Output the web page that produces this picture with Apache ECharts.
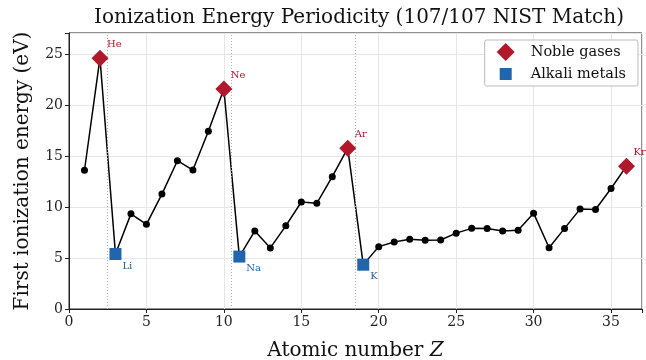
<!DOCTYPE html>
<html><head><meta charset="utf-8">
<script src="https://cdn.jsdelivr.net/npm/echarts@6/dist/echarts.min.js"></script>
<style>html,body{margin:0;padding:0;background:#fff}#c{width:646px;height:360px}</style>
</head><body><div id="c"></div>
<script>
const atomicNumbers = [1,2,3,4,5,6,7,8,9,10,11,12,13,14,15,16,17,18,19,20,21,22,23,24,25,26,27,28,29,30,31,32,33,34,35,36];
const ionizationEnergy = [13.598,24.587,5.392,9.323,8.298,11.260,14.534,13.618,17.423,21.565,5.139,7.646,5.986,8.152,10.487,10.360,12.968,15.760,4.341,6.113,6.561,6.828,6.746,6.767,7.434,7.902,7.881,7.640,7.726,9.394,5.999,7.900,9.789,9.752,11.814,13.999];
const nobleZ = [2,10,18,36];
const nobleNames = ['He','Ne','Ar','Kr'];
const alkaliZ = [3,11,19];
const alkaliNames = ['Li','Na','K'];
const periodBoundaries = [2.5,10.5,18.5];
const xTicks = [0,5,10,15,20,25,30,35];
const yTicks = [0,5,10,15,20,25];

const RED = '#b2182b', BLUE = '#2166ac';
const FONT = 'DejaVu Serif';
const ie = z => ionizationEnergy[atomicNumbers.indexOf(z)];

const chart = echarts.init(document.getElementById('c'), null, {renderer:'canvas'});
chart.setOption({
  animation:false,
  backgroundColor:'#fff',
  textStyle:{fontFamily:FONT},
  title:{text:'Ionization Energy Periodicity (107/107 NIST Match)', left:354, textAlign:'center', top:3,
    textStyle:{fontFamily:FONT, fontWeight:'normal', fontSize:20, color:'#111'}},
  grid:{left:69, right:4, top:33, bottom:51, show:true, borderColor:'#222', borderWidth:1, backgroundColor:'transparent',
    outerBoundsMode:'none', containLabel:false},
  legend:{right:8, top:40, orient:'vertical', itemWidth:18, itemHeight:18, itemGap:4,
    padding:[3,12,3,12], borderColor:'#bbb', borderWidth:1, borderRadius:2, backgroundColor:'rgba(255,255,255,0.9)',
    textStyle:{fontFamily:FONT, fontSize:14.5, color:'#111', padding:[0,0,0,11]},
    data:[{name:'Noble gases', icon:'diamond'},{name:'Alkali metals', icon:'path://M0,0M18,18M3,3h12v12h-12z'}]},
  xAxis:{type:'value', min:0, max:37, interval:5,
    name:'Atomic number {i|Z}', nameLocation:'middle', nameGap:32,
    nameTextStyle:{fontFamily:FONT, fontSize:20, color:'#111', rich:{i:{fontFamily:FONT, fontStyle:'italic', fontSize:20, color:'#111'}}},
    axisLine:{show:true, lineStyle:{color:'#222', width:1}},
    axisTick:{show:true, inside:false, length:4, lineStyle:{color:'#222'}},
    axisLabel:{fontFamily:FONT, fontSize:14, color:'#222', margin:6,
      formatter:v => xTicks.includes(v) ? String(v) : ''},
    splitLine:{show:true, lineStyle:{color:'#e6e6e6', width:1}}},
  yAxis:{type:'value', min:0, max:27.05, interval:5,
    name:'First ionization energy (eV)', nameLocation:'middle', nameGap:36,
    nameTextStyle:{fontFamily:FONT, fontSize:20, color:'#111'},
    axisLine:{show:true, lineStyle:{color:'#222', width:1}},
    axisTick:{show:true, inside:false, length:4, lineStyle:{color:'#222'}},
    axisLabel:{fontFamily:FONT, fontSize:14, color:'#222', margin:6,
      formatter:v => yTicks.includes(v) ? String(v) : ''},
    splitLine:{show:true, lineStyle:{color:'#e6e6e6', width:1}}},
  series:[
    {type:'line', name:'IE', data:atomicNumbers.map((z,i)=>[z, ionizationEnergy[i]]),
     symbol:'circle', symbolSize:7, itemStyle:{color:'#000'}, lineStyle:{color:'#000', width:1.5},
     z:3,
     markLine:{silent:true, symbol:['none','none'], label:{show:false},
       lineStyle:{color:'#b0b0b0', type:[1,2], width:1},
       data:periodBoundaries.map(b=>({xAxis:b}))}},
    {type:'scatter', name:'Noble gases', symbol:'diamond', symbolSize:17, z:5,
     itemStyle:{color:RED, opacity:1},
     data:nobleZ.map((z,i)=>({value:[z, ie(z)], name:nobleNames[i]})),
     label:{show:true, formatter:p=>p.name, position:[15.5,-10.5], fontFamily:FONT, fontSize:10, color:RED}},
    {type:'scatter', name:'Alkali metals', symbol:'rect', symbolSize:12, z:5,
     itemStyle:{color:BLUE, opacity:1},
     data:alkaliZ.map((z,i)=>({value:[z, ie(z)], name:alkaliNames[i]})),
     label:{show:true, formatter:p=>p.name, position:[13,13], fontFamily:FONT, fontSize:10, color:BLUE}}
  ]
});
</script></body></html>
